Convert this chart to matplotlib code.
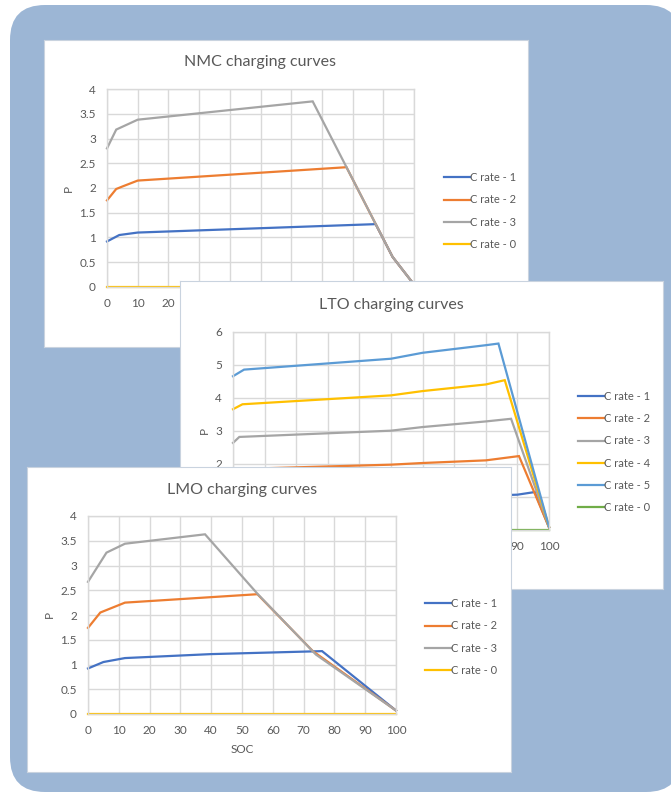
import matplotlib.pyplot as plt
from matplotlib.patches import FancyBboxPatch

W, H = 671, 795

# NMC series (SOC, P)
nmc_c1_soc = [0, 4, 10, 87.5, 93, 100]
nmc_c1_p = [0.92, 1.05, 1.10, 1.27, 0.61, 0.05]
nmc_c2_soc = [0, 3, 5, 10, 78, 93, 100]
nmc_c2_p = [1.75, 1.98, 2.03, 2.15, 2.42, 0.61, 0.05]
nmc_c3_soc = [0, 3, 10, 67, 93, 100]
nmc_c3_p = [2.80, 3.18, 3.38, 3.75, 0.61, 0.05]
nmc_c0_soc = [0, 100]
nmc_c0_p = [0, 0]

# LTO series
lto_c1_soc = [0, 2, 50, 80, 90, 95.5, 100]
lto_c1_p = [0.90, 0.95, 1.00, 1.04, 1.07, 1.15, 0.08]
lto_c2_soc = [0, 2, 50, 60, 80, 90.5, 100]
lto_c2_p = [1.70, 1.85, 1.98, 2.03, 2.11, 2.24, 0.08]
lto_c3_soc = [0, 2, 50, 60, 80, 88, 100]
lto_c3_p = [2.64, 2.82, 3.01, 3.12, 3.29, 3.37, 0.1]
lto_c4_soc = [0, 3, 50, 60, 80, 86, 100]
lto_c4_p = [3.66, 3.81, 4.08, 4.21, 4.41, 4.54, 0.1]
lto_c5_soc = [0, 3.5, 50, 60, 80, 84, 100]
lto_c5_p = [4.66, 4.86, 5.19, 5.37, 5.60, 5.65, 0.1]
lto_c0_soc = [0, 100]
lto_c0_p = [0, 0]

# LMO series
lmo_c1_soc = [0, 5, 12, 40, 76, 100]
lmo_c1_p = [0.92, 1.05, 1.13, 1.21, 1.27, 0.07]
lmo_c2_soc = [0, 4, 12, 55, 73, 100]
lmo_c2_p = [1.74, 2.05, 2.25, 2.42, 1.27, 0.07]
lmo_c3_soc = [0, 6, 12, 38, 55, 74, 100]
lmo_c3_p = [2.67, 3.26, 3.44, 3.63, 2.43, 1.20, 0.07]
lmo_c0_soc = [0, 100]
lmo_c0_p = [0, 0]

soc_ticks = list(range(0, 101, 10))
p_ticks_4 = [0, 0.5, 1, 1.5, 2, 2.5, 3, 3.5, 4]
p_ticks_6 = [0, 1, 2, 3, 4, 5, 6]

BLUE = '#4472C4'
ORANGE = '#ED7D31'
GREY = '#A5A5A5'
YELLOW = '#FFC000'
LBLUE = '#5B9BD5'
GREEN = '#70AD47'
TXT = '#595959'
GRID = '#D9D9D9'

plt.rcParams['font.family'] = ['Lato', 'DejaVu Sans']

fig = plt.figure(figsize=(W / 100, H / 100), dpi=100)
fig.patch.set_facecolor('white')


def px_rect(x0, y0, x1, y1):
    # pixel box (top-left origin) -> figure fraction rect
    return [x0 / W, 1 - y1 / H, (x1 - x0) / W, (y1 - y0) / H]


def legend_anchor(x, y):
    return (x / W, 1 - y / H)


# rounded blue backdrop
bg = fig.add_axes([0, 0, 1, 1], zorder=0)
bg.set_xlim(0, W)
bg.set_ylim(H, 0)
bg.axis('off')
bg.add_patch(FancyBboxPatch((10 + 35, 5 + 35), W + 10 - 80, H + 2 - 80,
                            boxstyle="round,pad=35", fc='#9CB6D5', ec='none'))


def make_panel(box, plot_box, z, title, title_y, series, ylim, yticks,
               leg_xy, show_xlabel=False):
    pan = fig.add_axes(px_rect(*box), zorder=z)
    pan.set_facecolor('white')
    pan.set_xticks([])
    pan.set_yticks([])
    for s in pan.spines.values():
        s.set_color('#C9D3DF')
        s.set_linewidth(0.8)
    # title in panel coordinates
    tx = (plot_box[0] + plot_box[2]) / 2
    pan.text((tx - box[0]) / (box[2] - box[0]), 1 - (title_y - box[1]) / (box[3] - box[1]),
             title, transform=pan.transAxes, ha='center', va='center',
             fontsize=11.5, color=TXT)

    ax = fig.add_axes(px_rect(*plot_box), zorder=z + 0.5)
    ax.set_facecolor('white')
    for soc, p, c, lab in series:
        ax.plot(soc, p, color=c, lw=1.6, label=lab, clip_on=False,
                solid_joinstyle='miter')
    ax.set_xlim(0, 100)
    ax.set_ylim(*ylim)
    ax.set_xticks(soc_ticks)
    ax.set_yticks(yticks)
    ax.set_yticklabels([f'{t:g}' for t in yticks])
    ax.grid(True, color=GRID, lw=1)
    ax.set_axisbelow(True)
    for s in ax.spines.values():
        s.set_color(GRID)
        s.set_linewidth(1)
    ax.tick_params(length=0, labelsize=8.5, colors=TXT, pad=8)
    ax.set_ylabel('P', color=TXT, fontsize=8.5, labelpad=4)
    if show_xlabel:
        ax.set_xlabel('SOC', color=TXT, fontsize=8.5, labelpad=6)
    ax.legend(loc='center left', bbox_to_anchor=legend_anchor(*leg_xy),
              bbox_transform=fig.transFigure, frameon=False, fontsize=8,
              handlelength=2.3, handletextpad=0.05, labelspacing=1.0,
              borderpad=0, borderaxespad=0, labelcolor=TXT)
    return ax


make_panel((44, 40, 528, 347), (107, 89, 414, 287), 1, 'NMC charging curves', 62,
           [(nmc_c1_soc, nmc_c1_p, BLUE, 'C rate - 1'),
            (nmc_c2_soc, nmc_c2_p, ORANGE, 'C rate - 2'),
            (nmc_c3_soc, nmc_c3_p, GREY, 'C rate - 3'),
            (nmc_c0_soc, nmc_c0_p, YELLOW, 'C rate - 0')],
           (0, 4), p_ticks_4, (444, 211))

make_panel((180, 281, 663, 589), (233, 332, 549, 530), 3, 'LTO charging curves', 305,
           [(lto_c1_soc, lto_c1_p, BLUE, 'C rate - 1'),
            (lto_c2_soc, lto_c2_p, ORANGE, 'C rate - 2'),
            (lto_c3_soc, lto_c3_p, GREY, 'C rate - 3'),
            (lto_c4_soc, lto_c4_p, YELLOW, 'C rate - 4'),
            (lto_c5_soc, lto_c5_p, LBLUE, 'C rate - 5'),
            (lto_c0_soc, lto_c0_p, GREEN, 'C rate - 0')],
           (0, 6), p_ticks_6, (578, 452))

make_panel((27, 467, 511, 772), (88, 516, 396, 714), 5, 'LMO charging curves', 490,
           [(lmo_c1_soc, lmo_c1_p, BLUE, 'C rate - 1'),
            (lmo_c2_soc, lmo_c2_p, ORANGE, 'C rate - 2'),
            (lmo_c3_soc, lmo_c3_p, GREY, 'C rate - 3'),
            (lmo_c0_soc, lmo_c0_p, YELLOW, 'C rate - 0')],
           (0, 4), p_ticks_4, (425, 637), show_xlabel=True)

fig.savefig('out.png', dpi=100, facecolor='white')
